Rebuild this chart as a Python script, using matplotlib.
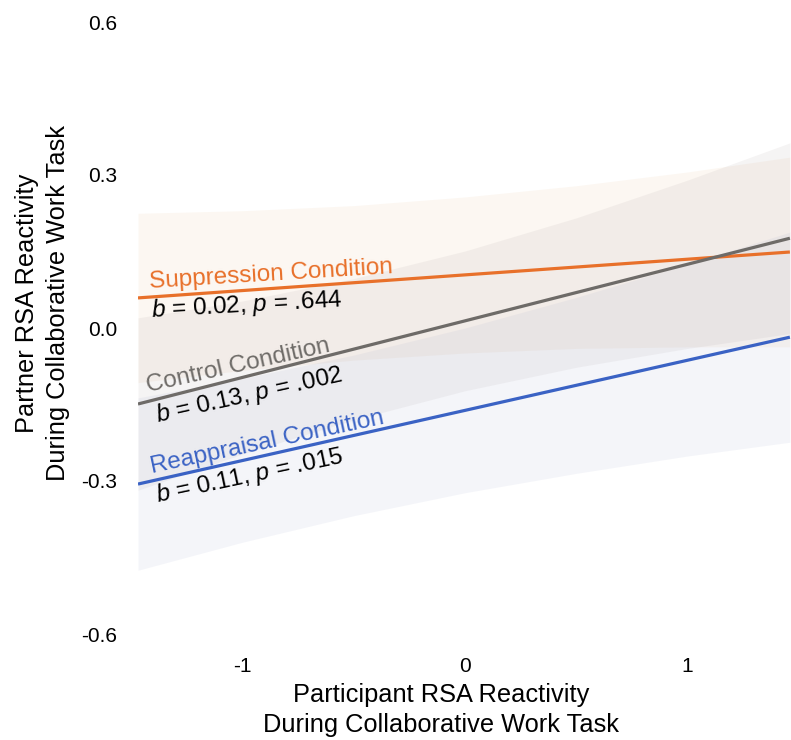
import matplotlib
matplotlib.use("Agg")
import matplotlib.pyplot as plt

# ---------------- data ----------------
band_x = [-1.47, -1.0, -0.5, 0.0, 0.5, 1.0, 1.46]

supp_line_x = [-1.47, 1.46]
supp_line_y = [0.059, 0.149]
supp_upper = [0.225, 0.230, 0.240, 0.257, 0.279, 0.306, 0.335]
supp_lower = [-0.107, -0.083, -0.063, -0.049, -0.040, -0.037, -0.037]

ctrl_line_x = [-1.47, 1.46]
ctrl_line_y = [-0.149, 0.176]
ctrl_upper = [0.020, 0.053, 0.097, 0.151, 0.216, 0.290, 0.363]
ctrl_lower = [-0.318, -0.247, -0.180, -0.123, -0.077, -0.040, -0.011]

reap_line_x = [-1.47, 1.46]
reap_line_y = [-0.306, -0.018]
reap_upper = [-0.137, -0.099, -0.053, 0.000, 0.060, 0.125, 0.188]
reap_lower = [-0.475, -0.420, -0.368, -0.323, -0.285, -0.251, -0.224]

x_ticks = [-1, 0, 1]
x_tick_labels = ["-1", "0", "1"]
y_ticks = [0.6, 0.3, 0.0, -0.3, -0.6]
y_tick_labels = ["0.6", "0.3", "0.0", "-0.3", "-0.6"]

labels = ["Suppression Condition", "Control Condition", "Reappraisal Condition"]
stats = [r"$b$ = 0.02, $p$ = .644", r"$b$ = 0.13, $p$ = .002", r"$b$ = 0.11, $p$ = .015"]

# ---------------- style ----------------
plt.rcParams["font.family"] = ["Liberation Sans", "DejaVu Sans"]
plt.rcParams["mathtext.fontset"] = "custom"
plt.rcParams["mathtext.rm"] = "Liberation Sans"
plt.rcParams["mathtext.it"] = "Liberation Sans:italic"

c_supp = "#E8702A"
c_ctrl = "#6E6B68"
c_reap = "#3A62C4"

fig = plt.figure(figsize=(7.91, 7.40), dpi=100)
ax = fig.add_axes([138 / 791, 106 / 740, 653 / 791, 612 / 740])

ax.fill_between(band_x, supp_lower, supp_upper, color="#E6B782", alpha=0.10, lw=0)
ax.fill_between(band_x, ctrl_lower, ctrl_upper, color="#A09494", alpha=0.10, lw=0)
ax.fill_between(band_x, reap_lower, reap_upper, color="#8C96C3", alpha=0.09, lw=0)

ax.plot(supp_line_x, supp_line_y, color=c_supp, lw=2.3, solid_capstyle="butt")
ax.plot(ctrl_line_x, ctrl_line_y, color=c_ctrl, lw=2.3, solid_capstyle="butt")
ax.plot(reap_line_x, reap_line_y, color=c_reap, lw=2.3, solid_capstyle="butt")

fs = 17.5
ax.text(-1.416, 0.078, labels[0], color=c_supp, fontsize=fs, rotation=3.5,
        rotation_mode="anchor", ha="left", va="baseline")
ax.text(-1.407, 0.0216, stats[0], color="black", fontsize=fs, rotation=3.2,
        rotation_mode="anchor", ha="left", va="baseline")
ax.text(-1.425, -0.125, labels[1], color=c_ctrl, fontsize=fs, rotation=12.5,
        rotation_mode="anchor", ha="left", va="baseline")
ax.text(-1.384, -0.184, stats[1], color="black", fontsize=fs, rotation=12.5,
        rotation_mode="anchor", ha="left", va="baseline")
ax.text(-1.407, -0.284, labels[2], color=c_reap, fontsize=fs, rotation=12,
        rotation_mode="anchor", ha="left", va="baseline")
ax.text(-1.380, -0.341, stats[2], color="black", fontsize=fs, rotation=12,
        rotation_mode="anchor", ha="left", va="baseline")

ax.set_xlim(-1.47, 1.465)
ax.set_ylim(-0.6, 0.6)
ax.set_xticks(x_ticks)
ax.set_xticklabels(x_tick_labels)
ax.set_yticks(y_ticks)
ax.set_yticklabels(y_tick_labels)
ax.tick_params(axis="both", length=0, labelsize=15)
ax.tick_params(axis="y", pad=15)
ax.tick_params(axis="x", pad=16.5)
for s in ax.spines.values():
    s.set_visible(False)

ax.set_xlabel("Participant RSA Reactivity\nDuring Collaborative Work Task",
              fontsize=18.3, linespacing=1.32)
ax.set_ylabel("Partner RSA Reactivity\nDuring Collaborative Work Task",
              fontsize=18.3, linespacing=1.37)
ax.xaxis.set_label_coords(0.464, -0.080)
ax.yaxis.set_label_coords(-0.104, 0.541)

fig.savefig("out.png", dpi=100)
